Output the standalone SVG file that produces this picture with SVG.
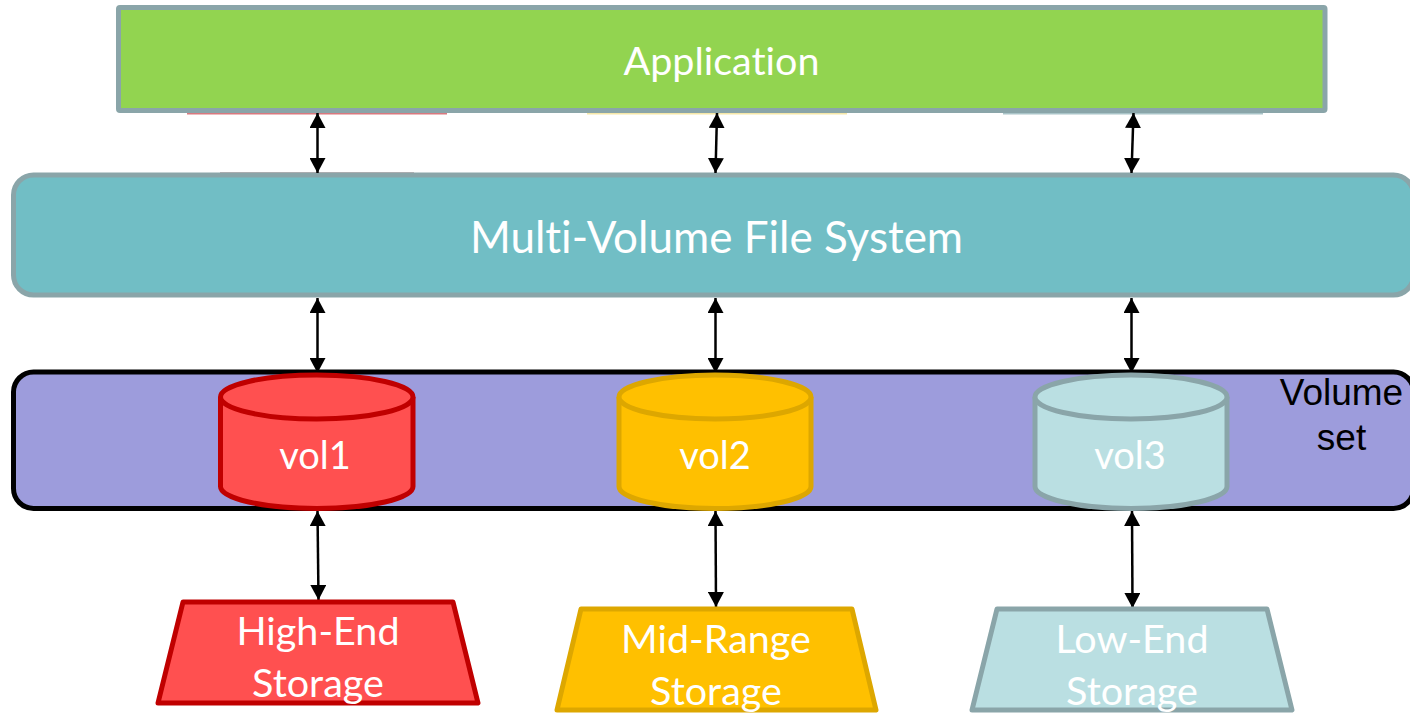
<svg xmlns="http://www.w3.org/2000/svg" width="1410" height="714" viewBox="0 0 1410 714">
<style>
.t{font-family:Lato,"Open Sans",sans-serif;fill:#fff;text-anchor:middle;font-variant-ligatures:none}
.big{font-size:44px}
.mid{font-size:38px}
.sto{font-size:39.500px}
.k{font-family:"Liberation Sans",Arial,sans-serif;font-size:37px;text-anchor:middle;fill:#000}
.g{stroke:#8aa5a9;stroke-width:5;stroke-linejoin:round}
.red{fill:#ff5050;stroke:#c00000;stroke-width:5;stroke-linejoin:round}
.amb{fill:#ffc000;stroke:#dda700;stroke-width:5;stroke-linejoin:round}
.pale{fill:#badfe2;stroke:#8aa5a9;stroke-width:5;stroke-linejoin:round}
.arr{stroke:#000;stroke-width:2.5;fill:none;marker-start:url(#h);marker-end:url(#h)}
</style>
<defs>
<marker id="h" viewBox="0 0 15 16" refX="15" refY="8" markerWidth="15" markerHeight="16" markerUnits="userSpaceOnUse" orient="auto-start-reverse"><path d="M0 0L15 8L0 16Z" fill="#000"/></marker>
</defs>
<rect x="187" y="113" width="260" height="1.500" fill="#d9797f"/>
<rect x="587" y="113" width="260" height="1.500" fill="#f5e7a8"/>
<rect x="1003" y="113" width="260" height="1.500" fill="#a9c4c8"/>
<rect x="220" y="172" width="194" height="1" fill="#c8b4b6"/>
<g id="application">
<rect class="g" x="118.500" y="7.500" width="1206.500" height="103" rx="1.500" fill="#92d450"/>
<text class="t" font-size="39.500" x="721.500" y="75">Application</text>
</g>
<g id="mvfs">
<rect class="g" x="13.500" y="175" width="1400" height="120" rx="20" fill="#71bec5"/>
<text class="t big" x="716.500" y="253">Multi-Volume File System</text>
</g>
<g id="volume-set">
<rect x="13.500" y="372" width="1400" height="136.500" rx="20" fill="#9d9cdc" stroke="#000" stroke-width="5"/>
<text class="k" x="1341.500" y="405">Volume</text>
<text class="k" x="1341.500" y="450">set</text>
</g>
<g id="connectors">
<line class="arr" x1="317.500" y1="113" x2="317.500" y2="173"/>
<line class="arr" x1="717" y1="113" x2="715.500" y2="173"/>
<line class="arr" x1="1133.500" y1="113" x2="1131.500" y2="173"/>
<line class="arr" x1="317.500" y1="298" x2="317.500" y2="373"/>
<line class="arr" x1="715.500" y1="298" x2="715.500" y2="373"/>
<line class="arr" x1="1131.500" y1="298" x2="1131.500" y2="373"/>
<line class="arr" x1="317.500" y1="511" x2="318.500" y2="600"/>
<line class="arr" x1="715.500" y1="511" x2="716" y2="607"/>
<line class="arr" x1="1132" y1="511" x2="1132.500" y2="608"/>
</g>
<g id="vol1">
<path class="red" d="M220.500 397V486.500C220.500 498.500 263.500 508.500 316.750 508.500S413 498.500 413 486.500V397"/>
<ellipse class="red" cx="316.750" cy="397" rx="96.250" ry="22"/>
<text class="t mid" x="315" y="469">vol1</text>
</g>
<g id="vol2">
<path class="amb" d="M619 397V486.500C619 498.500 662 508.500 715 508.500S811 498.500 811 486.500V397"/>
<ellipse class="amb" cx="715" cy="397" rx="96" ry="22"/>
<text class="t mid" x="715" y="469">vol2</text>
</g>
<g id="vol3">
<path class="pale" d="M1035 397V486.500C1035 498.500 1078 508.500 1131 508.500S1227 498.500 1227 486.500V397"/>
<ellipse class="pale" cx="1131" cy="397" rx="96" ry="22"/>
<text class="t mid" x="1130" y="469">vol3</text>
</g>
<g id="high-end">
<path class="red" d="M183 602H453L478 703H158Z"/>
<text class="t sto" x="318" y="645">High-End</text>
<text class="t sto" x="318" y="697">Storage</text>
</g>
<g id="mid-range">
<path class="amb" d="M581 609H852L876 710H557Z"/>
<text class="t sto" x="716" y="653">Mid-Range</text>
<text class="t sto" x="716" y="705">Storage</text>
</g>
<g id="low-end">
<path class="pale" d="M997 609H1267L1292 710H972Z"/>
<text class="t sto" x="1132" y="653">Low-End</text>
<text class="t sto" x="1132" y="705">Storage</text>
</g>
</svg>
